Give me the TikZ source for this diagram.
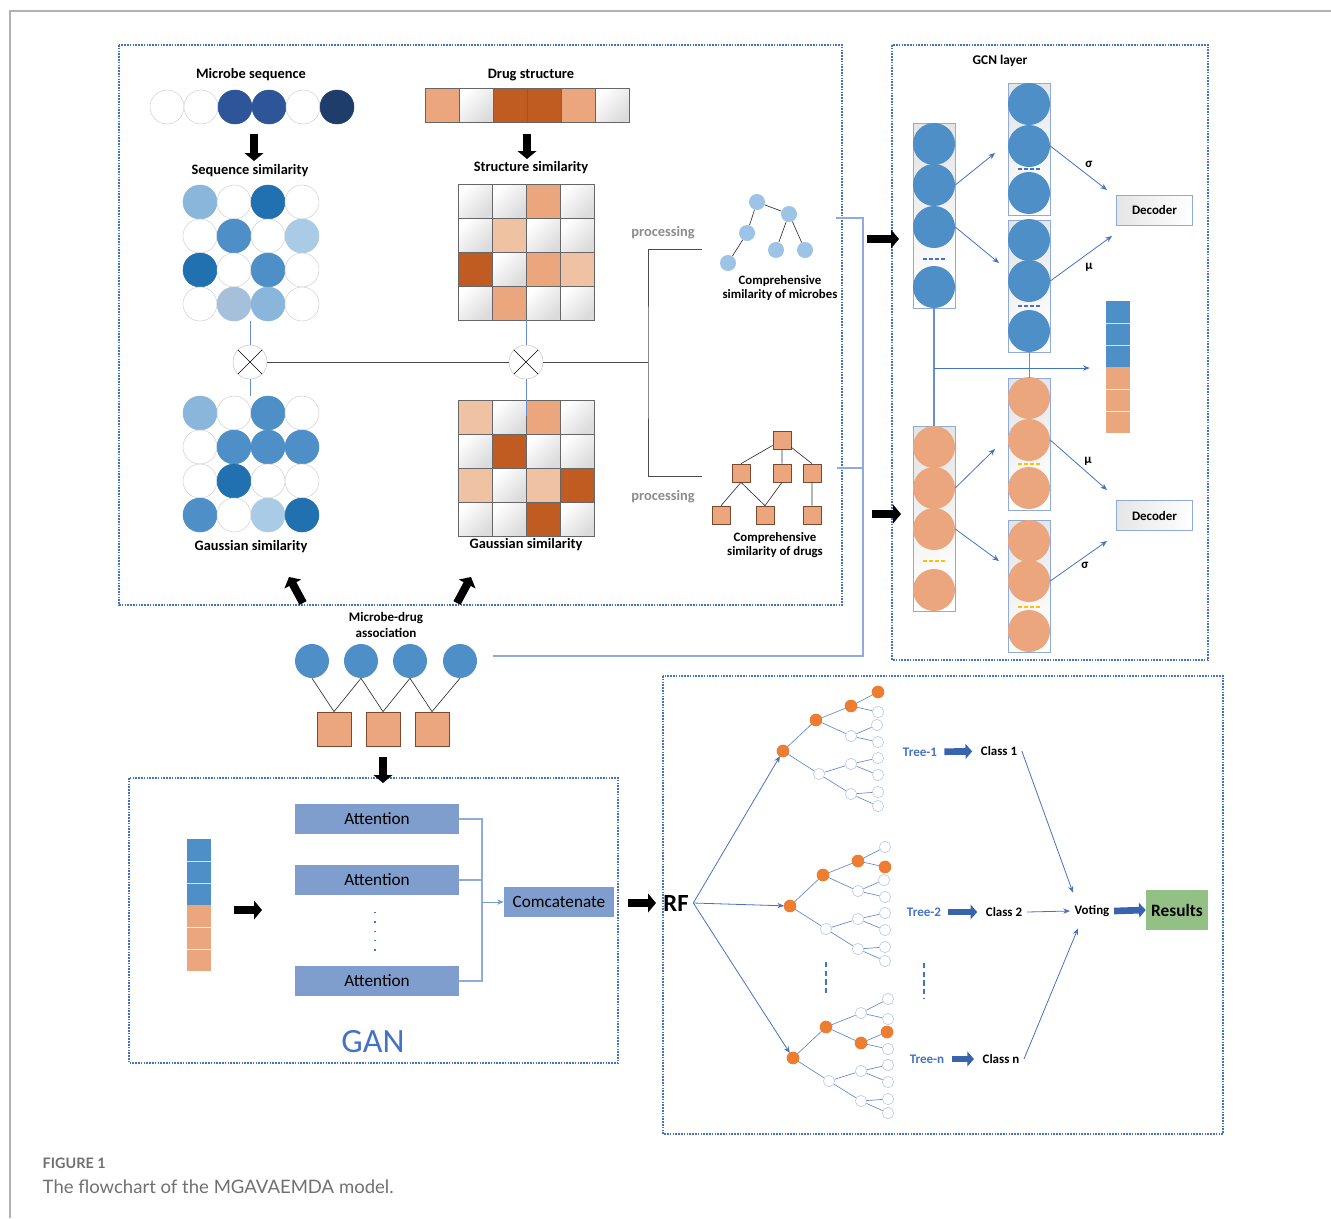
\documentclass[tikz,border=0pt]{standalone}
\usepackage{fontspec}
\setmainfont{Carlito}
\newfontfamily\captionfont{Lato}
\usepackage{xcolor}
\usetikzlibrary{arrows.meta,positioning,calc}
\definecolor{dotblue}{HTML}{4472C4}
\definecolor{lightlink}{HTML}{8FAADC}
\definecolor{seqdark}{HTML}{2E5597}
\definecolor{seqnavy}{HTML}{1F3D6B}
\definecolor{simdark}{HTML}{2171B0}
\definecolor{simmid}{HTML}{4E8FC8}
\definecolor{simlight}{HTML}{8AB6DC}
\definecolor{simpale}{HTML}{A9CBE6}
\definecolor{simgray}{HTML}{A6C0DC}
\definecolor{treeblue}{HTML}{9DC3E6}
\definecolor{drugdark}{HTML}{C05C22}
\definecolor{drugmid}{HTML}{EBA67E}
\definecolor{drugpale}{HTML}{F0C2A4}
\definecolor{drugedge}{HTML}{7A4A30}
\definecolor{attnblue}{HTML}{7F9DCD}
\definecolor{arrowblue}{HTML}{3864AE}
\definecolor{treeorange}{HTML}{ED7D31}
\definecolor{resgreen}{HTML}{93C185}
\definecolor{dashyellow}{HTML}{FFC000}
\definecolor{capgray}{HTML}{707070}

\begin{document}
\begin{tikzpicture}[x=0.75pt,y=-0.75pt,
  lbl/.style={font=\fontsize{10.8}{12.5}\selectfont\bfseries},
  smalllbl/.style={font=\fontsize{9.6}{11}\selectfont\bfseries,align=center},
  proclbl/.style={font=\fontsize{10.8}{12.5}\selectfont\bfseries,text=black!45},
  panel/.style={draw=dotblue,line width=0.8pt,dash pattern=on 1.2pt off 0.9pt},
  mcell/.style={circle,draw=gray!35,line width=0.4pt,minimum size=25.5pt,inner sep=0pt},
  mwhite/.style={fill=white},
  mseq/.style={fill=seqdark,draw=seqdark},
  mnavy/.style={fill=seqnavy,draw=seqnavy},
  mdark/.style={fill=simdark,draw=simdark},
  mmid/.style={fill=simmid,draw=simmid},
  mlight/.style={fill=simlight,draw=simlight},
  mpale/.style={fill=simpale,draw=simpale},
  mgray/.style={fill=simgray,draw=simgray},
  dcell/.style={rectangle,draw=black!60,line width=0.5pt,minimum size=25.5pt,inner sep=0pt},
  dwhite/.style={top color=white,bottom color=black!14,shading angle=45},
  ddark/.style={fill=drugdark},
  dmid/.style={fill=drugmid},
  dpale/.style={fill=drugpale},
  xcirc/.style={circle,draw=gray!45,fill=white,minimum size=25.5pt,inner sep=0pt},
  blockarrow/.style={-{Triangle[length=6pt,width=14pt]},line width=6pt,black},
  bluearrow/.style={-{Triangle[length=5pt,width=11pt]},line width=5pt,arrowblue},
  vline/.style={draw=dotblue!80,line width=0.6pt},
  grayline/.style={draw=black!70,line width=0.7pt},
  linkline/.style={draw=lightlink,line width=0.8pt},
  linkarrow/.style={draw=dotblue,line width=0.6pt,-{Stealth[length=5pt,width=4pt]}},
  treeball/.style={circle,fill=treeblue,minimum size=12pt,inner sep=0pt},
  treesq/.style={rectangle,fill=drugmid,draw=drugedge,line width=0.5pt,minimum size=13.5pt,inner sep=0pt},
  assocball/.style={circle,fill=simmid,minimum size=25.5pt,inner sep=0pt},
  assocsq/.style={rectangle,fill=drugmid,draw=drugedge,line width=0.6pt,minimum size=25.5pt,inner sep=0pt},
  colbox/.style={rectangle,draw=lightlink,line width=0.6pt,top color=black!10,bottom color=white,shading angle=30,minimum width=31.5pt,inner sep=0pt},
  gball/.style={circle,minimum size=31.5pt,inner sep=0pt},
  decoder/.style={rectangle,draw=lightlink,line width=0.6pt,left color=black!10,right color=white,minimum width=57pt,minimum height=22.5pt,font=\fontsize{9.7}{11}\selectfont\bfseries},
  stackcell/.style={rectangle,minimum width=18pt,minimum height=49.5pt,inner sep=0pt},
  attn/.style={rectangle,fill=attnblue,minimum width=123pt,minimum height=22.5pt,font=\fontsize{12.9}{14}\selectfont},
  wnode/.style={circle,draw=lightlink!70,fill=white,line width=0.4pt,minimum size=8.5pt,inner sep=0pt},
  onode/.style={circle,fill=treeorange,minimum size=9.5pt,inner sep=0pt},
  treeedge/.style={draw=dotblue!85,line width=0.5pt},
  treelbl/.style={font=\fontsize{9.8}{11}\selectfont\bfseries,text=dotblue},
  classlbl/.style={font=\fontsize{9.7}{11}\selectfont\bfseries}
]
\useasboundingbox (0,0) rectangle (1331,1218);
% page frame and panels
\draw[black!30,line width=1.2pt] (10,1218) -- (10,11) -- (1331,11);
\draw[panel] (119,45) rectangle (842,605);
\draw[panel] (892,45) rectangle (1208,660);
\draw[panel] (129,778) rectangle (618,1063);
\draw[panel] (663,676) rectangle (1223,1134);

% microbe similarities
\node[lbl] (mseqlbl) at (251,75) {Microbe sequence};
\foreach \c [count=\k from 0] in {mwhite,mwhite,mseq,mseq,mwhite,mnavy}
  \node[mcell,\c] (seq-\k) at (167+34*\k,107) {};
\coordinate (mdown1) at (254,134);
\coordinate (mdown2) at (254,161);
\draw[blockarrow] (mdown1) -- (mdown2);
\node[lbl] (msimlbl) at (250,171) {Sequence similarity};
\foreach \r/\cl in {0/{mlight,mwhite,mdark,mwhite},1/{mwhite,mmid,mwhite,mpale},2/{mdark,mwhite,mmid,mwhite},3/{mwhite,mgray,mlight,mwhite}}
  \foreach \c [count=\k from 0] in \cl
    \node[mcell,\c] (ms-\r-\k) at (200+34*\k,202+34*\r) {};
\node[xcirc] (ox1) at (250,362) {};
\draw (ox1.north west) -- (ox1.south east) (ox1.north east) -- (ox1.south west);
\foreach \r/\cl in {0/{mlight,mwhite,mmid,mwhite},1/{mwhite,mmid,mmid,mmid},2/{mwhite,mdark,mwhite,mwhite},3/{mmid,mwhite,mpale,mdark}}
  \foreach \c [count=\k from 0] in \cl
    \node[mcell,\c] (mg-\r-\k) at (200+34*\k,413+34*\r) {};
\node[lbl] (mgaulbl) at (251,547) {Gaussian similarity};
\draw[vline] (ms-3-1.south -| ox1) -- (ox1.north);
\draw[vline] (ox1.south) -- (ox1 |- mg-0-1.north);

% drug similarities
\node[lbl] (dstrlbl) at (531,75) {Drug structure};
\foreach \c [count=\k from 0] in {dmid,dwhite,ddark,ddark,dmid,dwhite}
  \node[dcell,\c] (dstr-\k) at (442+34*\k,105) {};
\coordinate (ddown1) at (527,134);
\coordinate (ddown2) at (527,159);
\draw[blockarrow] (ddown1) -- (ddown2);
\node[lbl] (dsimlbl) at (531,168) {Structure similarity};
\foreach \r/\cl in {0/{dwhite,dwhite,dmid,dwhite},1/{dwhite,dpale,dwhite,dwhite},2/{ddark,dwhite,dmid,dpale},3/{dwhite,dmid,dwhite,dwhite}}
  \foreach \c [count=\k from 0] in \cl
    \node[dcell,\c] (ds-\r-\k) at (475+34*\k,201+34*\r) {};
\node[xcirc] (ox2) at (526,362) {};
\draw (ox2.north west) -- (ox2.south east) (ox2.north east) -- (ox2.south west);
\foreach \r/\cl in {0/{dpale,dwhite,dmid,dwhite},1/{dwhite,ddark,dwhite,dwhite},2/{dpale,dwhite,dpale,ddark},3/{dwhite,dwhite,ddark,dwhite}}
  \foreach \c [count=\k from 0] in \cl
    \node[dcell,\c] (dg-\r-\k) at (475+34*\k,417+34*\r) {};
\node[lbl] (dgaulbl) at (526,545) {Gaussian similarity};
\draw[vline] (ds-3-1.south -| ox2) -- (ox2.north);
\draw[vline] (ox2.south) -- ($(ox2 |- dg-0-1.north)+(0,16)$);

% fusion and processing
\coordinate (pjoin) at (648,362);
\coordinate (pup) at (702,249);
\coordinate (plow) at (702,476);
\draw[grayline] (ox1) -- (ox2);
\draw[grayline] (ox2) -- (pjoin);
\draw[grayline] (pup) -| (pjoin) |- (plow);
\node[proclbl] (proc1) at (663,233) {processing};
\node[proclbl] (proc2) at (663,497) {processing};

\node[treeball] (ct1) at (757,202) {};
\node[treeball] (ct2) at (789,214) {};
\node[treeball] (ct3) at (747,233) {};
\node[treeball] (ct4) at (728,263) {};
\node[treeball] (ct5) at (776,250) {};
\node[treeball] (ct6) at (805,250) {};
\draw[black!80,line width=0.5pt] (ct1) -- (ct2) (ct1) -- (ct3) (ct3) -- (ct4) (ct2) -- (ct5) (ct2) -- (ct6);
\node[smalllbl] (cmlbl) at (780,288) {Comprehensive\\similarity of microbes};

\node[treesq] (dt1) at (782,440) {};
\node[treesq] (dt2) at (741,473) {};
\node[treesq] (dt3) at (782,473) {};
\node[treesq] (dt4) at (812,473) {};
\node[treesq] (dt5) at (721,515) {};
\node[treesq] (dt6) at (765,515) {};
\node[treesq] (dt7) at (812,515) {};
\draw[black!80,line width=0.5pt] (dt1) -- (dt2.north) (dt1) -- (dt3) (dt1) -- (dt4.north)
  (dt2.south) -- (dt5.north) (dt2.south) -- (dt6.north) (dt3.south) -- (dt6.north) (dt4) -- (dt7);
\node[smalllbl] (cdlbl) at (775,545) {Comprehensive\\similarity of drugs};

\coordinate (cmout) at (836,218);
\coordinate (cdout) at (837,468);
\coordinate (cjoin) at (863,656);
\coordinate (cassoc) at (493,656);
\draw[linkline] (cmout) -| (cjoin) -- (cassoc);
\draw[linkline] (cdout) -- (cdout -| cjoin);

\coordinate (gup1a) at (303,603);
\coordinate (gup1b) at (289,577);
\coordinate (gup2a) at (457,603);
\coordinate (gup2b) at (471,577);
\draw[blockarrow] (gup1a) -- (gup1b);
\draw[blockarrow] (gup2a) -- (gup2b);

% microbe-drug association
\node[lbl,align=center,font=\fontsize{9.8}{11.5}\selectfont\bfseries] (assoclbl) at (386,625) {Microbe-drug\\association};
\foreach \x [count=\i] in {312,361,410,460}
  \node[assocball] (ac\i) at (\x,661) {};
\foreach \x [count=\i] in {334,383,432}
  \node[assocsq] (as\i) at (\x,729) {};
\draw[black!80,line width=0.5pt] (ac1.south) -- (as1.north) (ac2.south) -- (as1.north)
  (ac2.south) -- (as2.north) (ac3.south) -- (as2.north)
  (ac3.south) -- (as3.north) (ac4.south) -- (as3.north);
\coordinate (adown1) at (383,757);
\coordinate (adown2) at (383,783);
\draw[blockarrow] (adown1) -- (adown2);

% GCN layer
\node[smalllbl,font=\fontsize{10}{11}\selectfont\bfseries] (gcnlbl) at (1000,61) {GCN layer};
\coordinate (gin1a) at (867,239);
\coordinate (gin1b) at (899,239);
\coordinate (gin2a) at (872,514);
\coordinate (gin2b) at (901,514);
\draw[blockarrow] (gin1a) -- (gin1b);
\draw[blockarrow] (gin2a) -- (gin2b);
\node[colbox,minimum height=138.75pt] (gb1) at (934,215.5) {};
\node[colbox,minimum height=99pt] (gb2) at (1029.5,149) {};
\node[colbox,minimum height=99pt] (gb3) at (1029.5,286) {};
\node[colbox,minimum height=138.75pt] (go1) at (934,518.5) {};
\node[colbox,minimum height=99pt] (go2) at (1029.5,444) {};
\node[colbox,minimum height=99pt] (go3) at (1029.5,586) {};
\foreach \y [count=\i] in {144,185,227,287}
  \node[gball,fill=simmid] (gb1-\i) at (934,\y) {};
\foreach \y [count=\i] in {104,146,193}
  \node[gball,fill=simmid] (gb2-\i) at (1029,\y) {};
\foreach \y [count=\i] in {240,281,331}
  \node[gball,fill=simmid] (gb3-\i) at (1029,\y) {};
\foreach \y [count=\i] in {447,488,529,590}
  \node[gball,fill=drugmid] (go1-\i) at (934,\y) {};
\foreach \y [count=\i] in {398,440,488}
  \node[gball,fill=drugmid] (go2-\i) at (1029,\y) {};
\foreach \y [count=\i] in {541,581,631}
  \node[gball,fill=drugmid] (go3-\i) at (1029,\y) {};
\foreach \x/\y in {934/259,1029/169,1029/306}
  \draw[dotblue,line width=0.9pt,dash pattern=on 3pt off 1.6pt] (\x-11,\y) -- (\x+11,\y);
\foreach \x/\y in {934/561,1029/464,1029/607}
  \draw[dashyellow,line width=0.9pt,dash pattern=on 3pt off 1.6pt] (\x-11,\y) -- (\x+11,\y);

\node[decoder] (dec1) at (1154.5,210) {Decoder};
\node[decoder] (dec2) at (1154.5,515.5) {Decoder};
\coordinate (gt1) at (995,153);
\coordinate (gt2) at (999,263);
\coordinate (gt3) at (1107,190);
\coordinate (gt4) at (1112,236);
\coordinate (gt5) at (995,449);
\coordinate (gt6) at (999,561);
\coordinate (gt7) at (1107,490);
\coordinate (gt8) at (1107,541);
\draw[linkarrow] (gb1-2.east) -- (gt1);
\draw[linkarrow] (gb1-3.east) -- (gt2);
\draw[linkarrow] (gb2-2.east) -- (gt3);
\draw[linkarrow] (gb3-2.east) -- (gt4);
\draw[linkarrow] (go1-2.east) -- (gt5);
\draw[linkarrow] (go1-3.east) -- (gt6);
\draw[linkarrow] (go2-2.east) -- (gt7);
\draw[linkarrow] (go3-2.east) -- (gt8);
\node[classlbl] (sig1) at (1089,164) {σ};
\node[classlbl] (mu1) at (1089,267) {μ};
\node[classlbl] (mu2) at (1088,461) {μ};
\node[classlbl] (sig2) at (1085,565) {σ};

\node[stackcell,fill=simmid] (barb) at (1118,334) {};
\node[stackcell,fill=drugmid] (baro) at (1118,400) {};
\foreach \f in {1/3,2/3} {
  \draw[white!75!simmid,line width=0.4pt] ($(barb.north west)!\f!(barb.south west)$) -- ($(barb.north east)!\f!(barb.south east)$);
  \draw[white!80!drugmid,line width=0.4pt] ($(baro.north west)!\f!(baro.south west)$) -- ($(baro.north east)!\f!(baro.south east)$);
}
\coordinate (gjoin) at (934,368);
\draw[linkline,draw=dotblue!80] (gb1.south) -- (go1.north);
\draw[linkline,draw=dotblue!80] (gb3.south) -- (go2.north);
\draw[linkarrow,shorten >=12pt] (gjoin) -- (gjoin -| barb.west);

% GAN
\node[stackcell,fill=simmid] (ganb) at (199,872) {};
\node[stackcell,fill=drugmid] (gano) at (199,938) {};
\foreach \f in {1/3,2/3} {
  \draw[white!75!simmid,line width=0.4pt] ($(ganb.north west)!\f!(ganb.south west)$) -- ($(ganb.north east)!\f!(ganb.south east)$);
  \draw[white!80!drugmid,line width=0.4pt] ($(gano.north west)!\f!(gano.south west)$) -- ($(gano.north east)!\f!(gano.south east)$);
}
\coordinate (ganin1) at (234,910);
\coordinate (ganin2) at (262,910);
\draw[blockarrow] (ganin1) -- (ganin2);
\node[attn] (att1) at (377,819) {Attention};
\node[attn] (att2) at (377,880) {Attention};
\node[attn] (att3) at (377,981) {Attention};
\draw[dotblue,line width=1.3pt,dash pattern=on 1pt off 6pt] (375,912) -- (375,957);
\node[attn,minimum width=82.5pt] (concat) at (559,902) {Comcatenate};
\coordinate (brk) at (482,902);
\draw[linkline] (att1.east) -| (brk) |- (att3.east);
\draw[linkline] (att2.east) -- (att2.east -| brk);
\draw[linkarrow,draw=lightlink!70!dotblue] (brk) -- (concat.west);
\node[font=\fontsize{25.5}{29}\selectfont,text=dotblue] (ganlbl) at (373,1042) {GAN};

% random forest
\coordinate (rfin1) at (628,903);
\coordinate (rfin2) at (656,903);
\draw[blockarrow] (rfin1) -- (rfin2);
\node[font=\fontsize{18.5}{20}\selectfont\bfseries] (rf) at (676,903) {RF};
\foreach \t/\rx/\ry in {1/783/751,2/790/906,n/793/1058}{
  \node[wnode] (t\t-R) at (\rx,\ry) {};
  \foreach \n/\p/\dx/\dy in {A/R/33/-31,B/R/36/23,A1/A/68/-45,A2/A/68/-15,B1/B/68/13,B2/B/68/43,A1a/A1/95/-59,A1b/A1/95/-39,A2a/A2/94/-26,A2b/A2/95/-9,B1a/B1/95/7,B1b/B1/95/24,B2a/B2/95/41,B2b/B2/95/55}{
    \node[wnode] (t\t-\n) at (\rx+\dx,\ry+\dy) {};
    \draw[treeedge] (t\t-\p) -- (t\t-\n);
  }
}
\foreach \o in {t1-R,t1-A,t1-A1,t1-A1a,t2-R,t2-A,t2-A1,t2-A1b,tn-R,tn-A,tn-A2,tn-A2a}
  \node[onode] at (\o) {};
\draw[linkarrow] (rf.east) -- (t1-R);
\draw[linkarrow] (rf.east) -- (t2-R);
\draw[linkarrow] (rf.east) -- (tn-R);
\draw[dotblue,line width=1.2pt,dash pattern=on 4pt off 2.5pt] (826,962) -- (826,996);
\draw[dotblue,line width=1.2pt,dash pattern=on 4pt off 2.5pt] (924,963) -- (924,998);

\node[treelbl] (tl1) at (920,752) {Tree-1};
\node[treelbl] (tl2) at (924,912) {Tree-2};
\node[treelbl] (tln) at (927,1059) {Tree-n};
\node[classlbl] (cl1) at (999,751) {Class 1};
\node[classlbl] (cl2) at (1004,912) {Class 2};
\node[classlbl] (cln) at (1001,1059) {Class n};
\draw[bluearrow,shorten <=2pt,shorten >=3pt] (tl1) -- (cl1);
\draw[bluearrow,shorten <=2pt,shorten >=3pt] (tl2) -- (cl2);
\draw[bluearrow,shorten <=2pt,shorten >=3pt] (tln) -- (cln);
\node[classlbl] (vote) at (1092,911) {Voting};
\node[rectangle,fill=resgreen,minimum width=46.5pt,minimum height=30pt,inner sep=1pt,font=\fontsize{13}{14}\selectfont\bfseries] (res) at (1177,910) {Results};
\draw[linkarrow] (cl1.east) -- ($(vote.north west)+(3,-8)$);
\draw[linkarrow] (cl2.east) -- (vote.west);
\draw[linkarrow] (cln.east) -- ($(vote.south west)+(8,7)$);
\draw[bluearrow] (vote.east) -- (res.west);

% caption
\node[anchor=west,font=\captionfont\fontsize{10.8}{12}\selectfont\bfseries,text=capgray] (figno) at (38,1163) {FIGURE 1};
\node[anchor=west,font=\captionfont\fontsize{13.9}{16}\selectfont,text=capgray] (figcap) at (38,1187) {The flowchart of the MGAVAEMDA model.};
\end{tikzpicture}
\end{document}
